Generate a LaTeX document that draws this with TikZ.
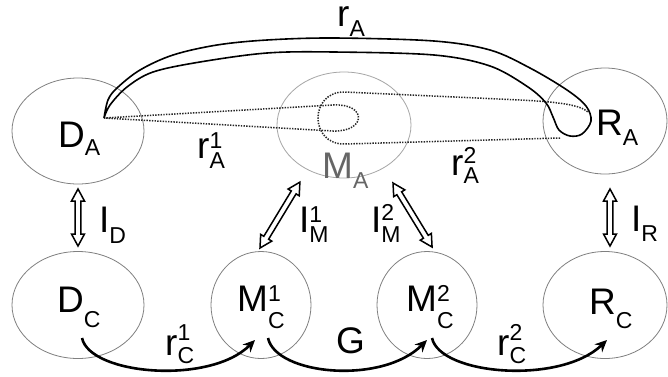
\documentclass[tikz,border=0pt]{standalone}
\usepackage{fontspec}
\setmainfont{Liberation Sans}
\usetikzlibrary{shapes.geometric,arrows.meta,calc}
\newcommand\subf{\fontsize{23}{23}\selectfont}
\newcommand\lab[5]{#1{\subf\rlap{\raisebox{#5}{#3}}\raisebox{-#4}{#2}}}
\begin{document}
\begin{tikzpicture}[x=1pt,y=-1pt,
  oval/.style={draw=black!50, line width=0.8pt, ellipse, inner sep=0pt},
  txt/.style={anchor=base west, inner sep=0pt, font=\fontsize{37}{40}\selectfont},
  hollowdbl/.pic={\draw[line width=1.5pt, fill=white, line join=miter]
      (0,0) -- (12,6.5) -- (12,2.8) -- ({#1-12},2.8) -- ({#1-12},6.5) -- (#1,0)
      -- ({#1-12},-6.5) -- ({#1-12},-2.8) -- (12,-2.8) -- (12,-6.5) -- cycle;},
  flow/.style={line width=2.6pt, -{Stealth[length=12pt,width=11pt]}},
  dots/.style={draw=black!85, line width=1.5pt, dash pattern=on 1.4pt off 1.3pt},
  loopline/.style={draw=black, line width=1.6pt}]
\useasboundingbox[fill=white] (0,0) rectangle (668,376);

% ellipses
\node[oval, minimum width=132pt, minimum height=106pt] (DA) at (78,131) {};
\node[oval, draw=black!35, minimum width=134pt, minimum height=106pt] (MA) at (344,125) {};
\node[oval, minimum width=124pt, minimum height=106pt] (RA) at (605,121) {};
\node[oval, minimum width=132pt, minimum height=107pt] (DC) at (78,305) {};
\node[oval, minimum width=100pt, minimum height=107pt] (MC1) at (261,305) {};
\node[oval, minimum width=100pt, minimum height=107pt] (MC2) at (427,305) {};
\node[oval, minimum width=124pt, minimum height=107pt] (RC) at (605,305) {};

% dotted hairpins
\coordinate (hA) at (104,118);
\draw[dots] (hA) -- (333,105) .. controls (367,103) and (367,132) .. (333,131) -- (hA);
\coordinate (hR) at (588,112);
\draw[dots] (560,138) -- (345,144) .. controls (309,145) and (309,91) .. (345,92)
   -- (520,100) .. controls (560,102) and (580,105) .. (hR);

% solid hairpin r_A
\draw[loopline] plot[smooth, tension=0.55] coordinates {
 (104,118) (108,100) (117,88) (140,70) (173,55) (217,45) (267,40) (334,38)
 (434,41) (490,50) (530,68) (567,90) (586,106) (591,121) (582,134) (570,136)
 (559,130) (553,117) (546,103) (528,87) (490,66) (434,55) (334,52)
 (267,53) (200,62) (153,72) (127,87) (110,105) (104,118)};

% double arrows
\pic[rotate=90] (ID) at (78,246) {hollowdbl=57};
\pic[rotate=90] (IR) at (610,246) {hollowdbl=57};
\pic[rotate=58.8] (IM1) at (260,248) {hollowdbl=77};
\pic[rotate=-58.6] (IM2) at (393,183) {hollowdbl=75};

% bottom flows
\coordinate (s1) at (82,338);  \coordinate (e1) at (255,340);
\coordinate (s2) at (268,338); \coordinate (e2) at (427,340);
\coordinate (s3) at (432,338); \coordinate (e3) at (607,340);
\draw[flow] (s1) .. controls +(8,37) and +(-45,45) .. (e1);
\draw[flow] (s2) .. controls +(8,37) and +(-45,45) .. (e2);
\draw[flow] (s3) .. controls +(8,37) and +(-47,45) .. (e3);

% labels
\node[txt] (lDA) at (58,147) {\lab{D}{A}{}{8pt}{0pt}};
\node[txt, text=black!60] (lMA) at (322,178) {\lab{M}{A}{}{10pt}{0pt}};
\node[txt] (lRA) at (596,135) {\lab{R}{A}{}{10pt}{0pt}};
\node[txt] (lrA) at (337,26) {\lab{r}{A}{}{10pt}{0pt}};
\node[txt] (lrA1) at (197,158) {\lab{r}{A}{1}{10pt}{10pt}};
\node[txt] (lrA2) at (451,175) {\lab{r}{A}{2}{8pt}{12pt}};
\node[txt] (lID) at (99,232) {\lab{I}{D}{}{11pt}{0pt}};
\node[txt] (lIR) at (631,231) {\lab{I}{R}{}{10pt}{0pt}};
\node[txt] (lIM1) at (299,232) {\lab{I}{M}{1}{10pt}{10pt}};
\node[txt] (lIM2) at (371,232) {\lab{I}{M}{2}{10pt}{12pt}};
\node[txt] (lDC) at (57,312) {\lab{D}{C}{}{15pt}{0pt}};
\node[txt] (lMC1) at (237,311) {\lab{M}{C}{1}{17pt}{10pt}};
\node[txt] (lMC2) at (406,311) {\lab{M}{C}{2}{17pt}{10pt}};
\node[txt] (lRC) at (589,314) {\lab{R}{C}{}{14pt}{0pt}};
\node[txt] (lrC1) at (165,355) {\lab{r}{C}{1}{8pt}{15pt}};
\node[txt] (lrC2) at (497,355) {\lab{r}{C}{2}{8pt}{15pt}};
\node[txt] (lG) at (336,353) {G};
\end{tikzpicture}
\end{document}
